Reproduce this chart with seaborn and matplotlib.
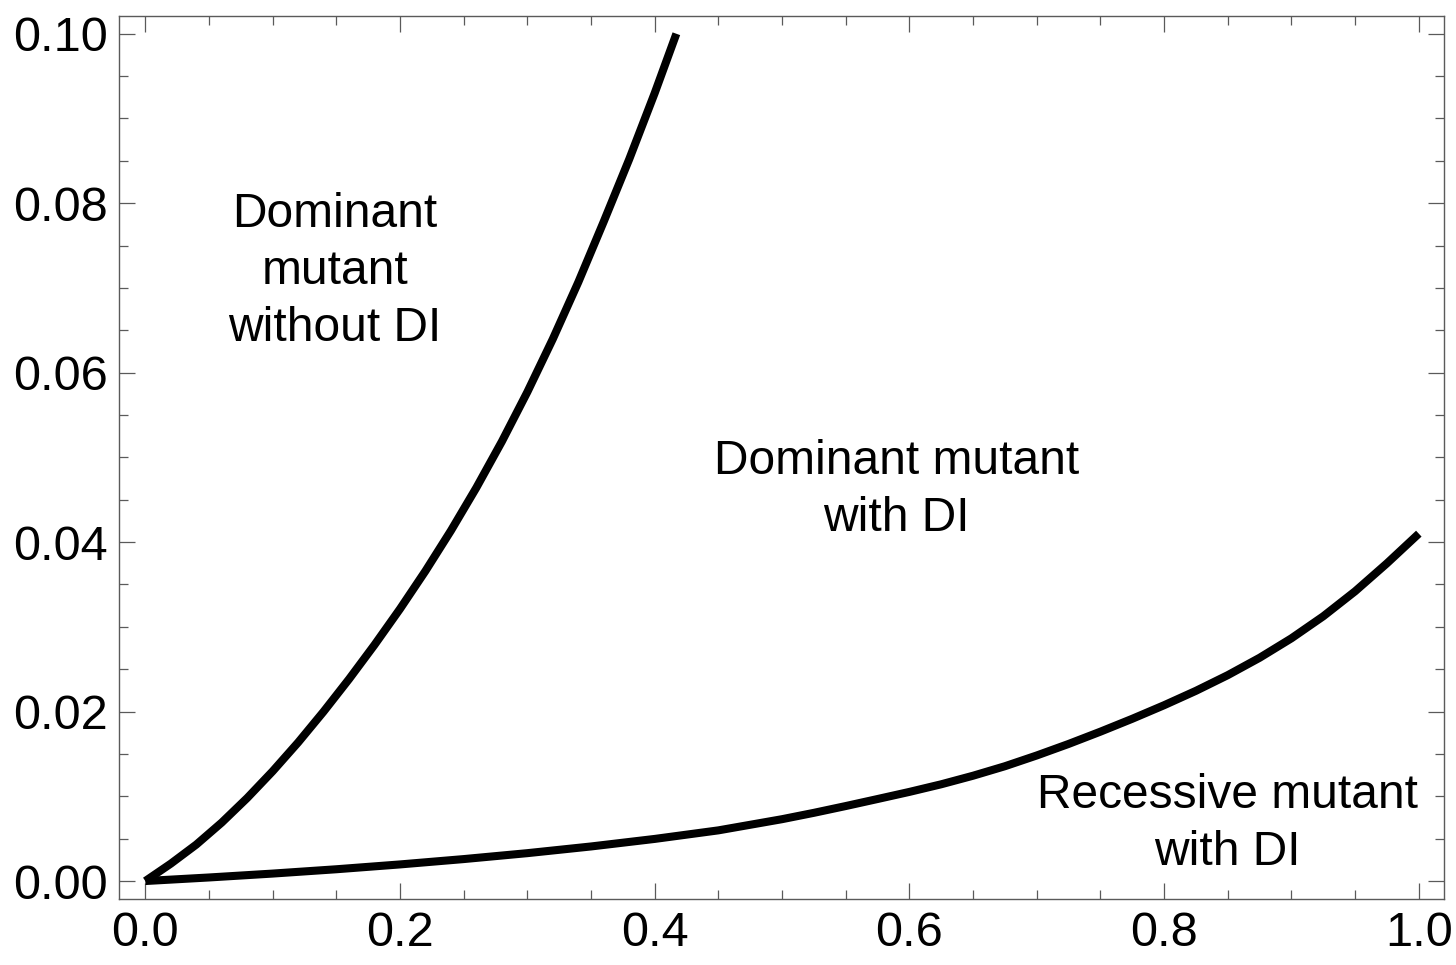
import matplotlib
matplotlib.use("Agg")
import matplotlib.pyplot as plt
import seaborn as sns
import pandas as pd
from matplotlib.ticker import MultipleLocator

# Boundary between "dominant mutant without DI" and "dominant mutant with DI"
upper_x = [0.00, 0.02, 0.04, 0.06, 0.08, 0.10, 0.12, 0.14, 0.16, 0.18, 0.20,
           0.22, 0.24, 0.26, 0.28, 0.30, 0.32, 0.34, 0.36, 0.38, 0.40, 0.417]
upper_y = [0.00000, 0.00205, 0.00430, 0.00690, 0.00980, 0.01296, 0.01636,
           0.02000, 0.02384, 0.02788, 0.03212, 0.03660, 0.04136, 0.04644,
           0.05188, 0.05772, 0.06398, 0.07068, 0.07784, 0.08520, 0.09300,
           0.10000]

# Boundary between "dominant mutant with DI" and "recessive mutant with DI"
lower_x = [0.00, 0.05, 0.10, 0.15, 0.20, 0.25, 0.30, 0.35, 0.40, 0.45, 0.50,
           0.525, 0.55, 0.575, 0.60, 0.625, 0.65, 0.675, 0.70, 0.725, 0.75,
           0.775, 0.80, 0.825, 0.85, 0.875, 0.90, 0.925, 0.95, 0.975, 1.00]
lower_y = [0.00000, 0.00042, 0.00088, 0.00139, 0.00196, 0.00259, 0.00329,
           0.00408, 0.00497, 0.00598, 0.00730, 0.00805, 0.00885, 0.00968,
           0.01052, 0.01142, 0.01243, 0.01355, 0.01482, 0.01618, 0.01763,
           0.01915, 0.02075, 0.02245, 0.02430, 0.02635, 0.02865, 0.03125,
           0.03420, 0.03750, 0.04100]

region_labels = ["Dominant\nmutant\nwithout DI", "Dominant mutant\nwith DI",
                 "Recessive mutant\nwith DI"]
label_x = [0.149, 0.590, 0.850]
label_y = [0.0719, 0.0461, 0.0067]

x_ticks = [0.0, 0.2, 0.4, 0.6, 0.8, 1.0]
y_ticks = [0.00, 0.02, 0.04, 0.06, 0.08, 0.10]

sns.set_theme(style="ticks")
plt.rcParams["font.family"] = ["Liberation Sans", "DejaVu Sans"]

frame_color = "#5a5a5a"

fig = plt.figure(figsize=(14.56, 9.65), dpi=100)
ax = fig.add_axes([0.0817, 0.0684, 0.9916 - 0.0817, 0.9839 - 0.0684])

upper = pd.DataFrame({"x": upper_x, "y": upper_y})
lower = pd.DataFrame({"x": lower_x, "y": lower_y})
for df in (upper, lower):
    sns.lineplot(data=df, x="x", y="y", ax=ax, color="black", linewidth=5.8,
                 sort=False, solid_capstyle="butt", solid_joinstyle="round")

for txt, tx, ty in zip(region_labels, label_x, label_y):
    ax.text(tx, ty, txt, ha="center", va="center", fontsize=34.5,
            color="black", linespacing=1.34)

ax.set_xlim(-0.0207, 1.0196)
ax.set_ylim(-0.00212, 0.10215)
ax.set_xticks(x_ticks)
ax.set_yticks(y_ticks)
ax.set_xticklabels([f"{v:.1f}" for v in x_ticks])
ax.set_yticklabels([f"{v:.2f}" for v in y_ticks])
ax.xaxis.set_minor_locator(MultipleLocator(0.05))
ax.yaxis.set_minor_locator(MultipleLocator(0.005))
ax.set_xlabel("")
ax.set_ylabel("")

for s in ax.spines.values():
    s.set_visible(True)
    s.set_color(frame_color)
    s.set_linewidth(1.0)

ax.tick_params(which="both", direction="in", top=True, right=True,
               color=frame_color, width=0.9, labelcolor="black")
ax.tick_params(which="major", length=11.5, labelsize=35)
ax.tick_params(which="minor", length=6.5)
ax.tick_params(axis="x", which="major", pad=9)
ax.tick_params(axis="y", which="major", pad=8)

fig.savefig("out.png", dpi=100, facecolor="white")
